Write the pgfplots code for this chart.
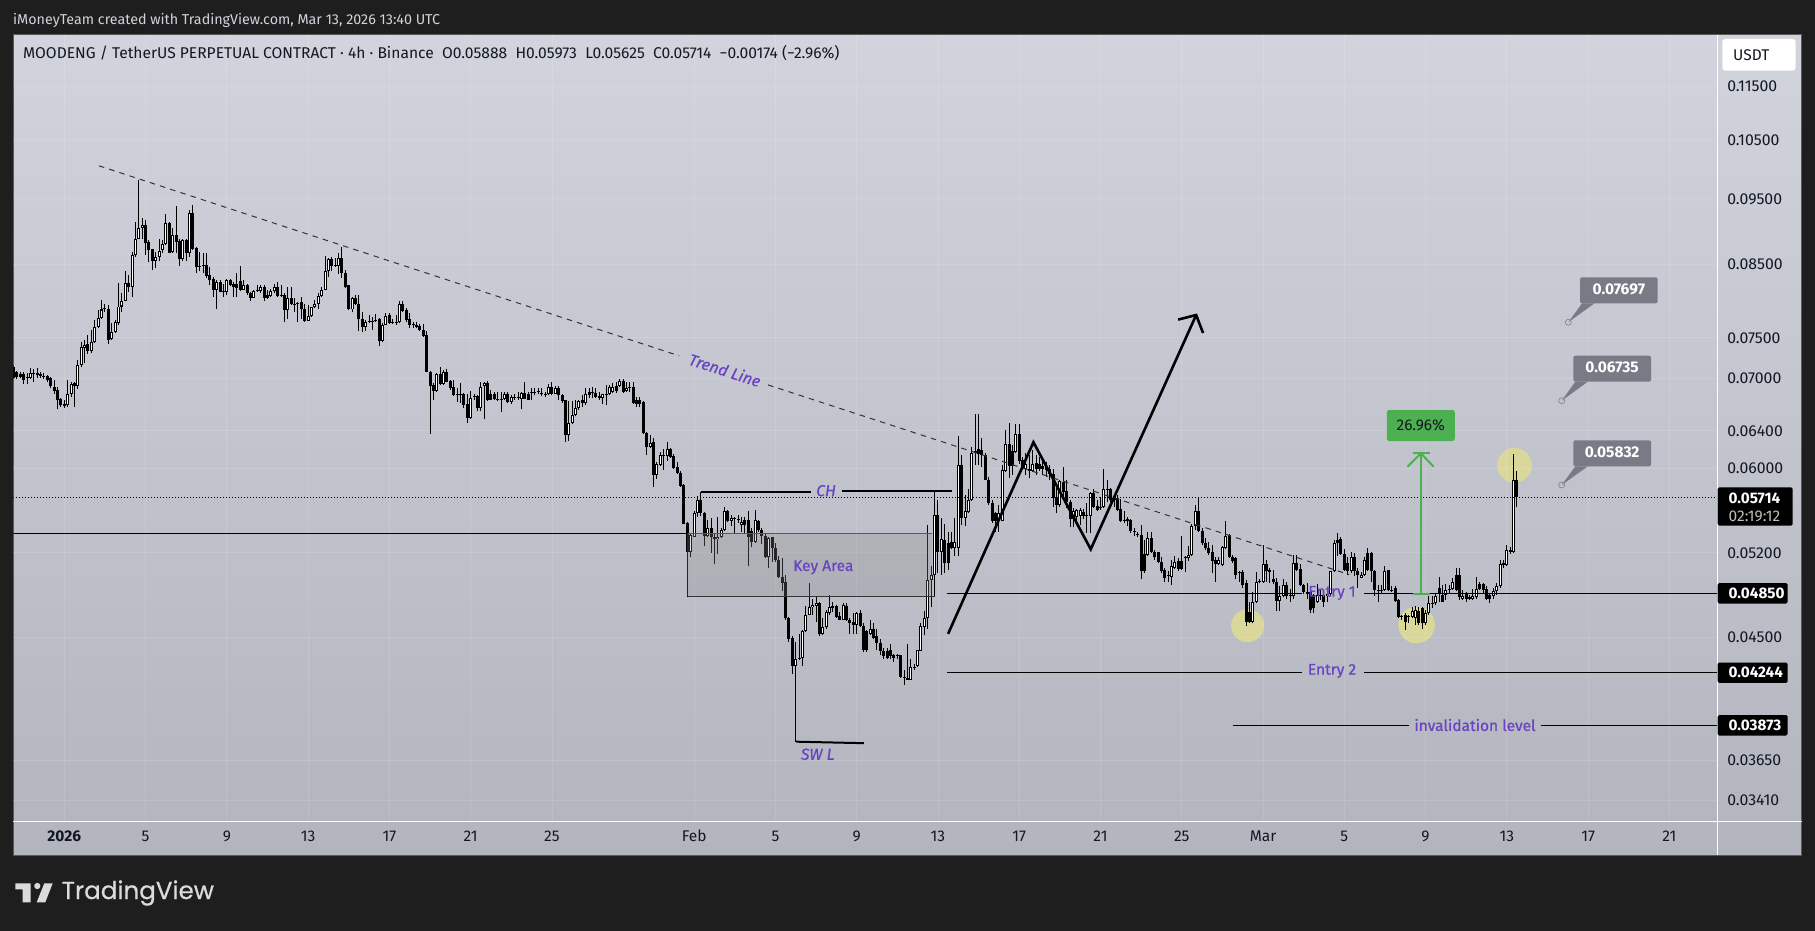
\documentclass[border=0pt]{standalone}
\usepackage{fontspec}
\setmainfont{Fira Sans}
\newfontfamily\logofont{Poppins}[UprightFeatures={RawFeature={embolden=0.6}},FakeBold=0.4]
\newfontfamily\medfont{Fira Sans}[FakeBold=0.5]
\usepackage{pgfplots}
\usepackage{pgfplotstable}
\pgfplotsset{compat=1.18}
\definecolor{panelT}{HTML}{D1D4DC}
\definecolor{panelB}{HTML}{B2B5BE}
\definecolor{dark}{HTML}{1E1E1E}
\definecolor{ink}{HTML}{131722}
\definecolor{purp}{HTML}{6A42C2}
\definecolor{tagg}{HTML}{787B86}
\definecolor{grn}{HTML}{4CAF50}
\definecolor{yel}{HTML}{DAD79A}
\newcommand\fs[1]{\fontsize{#1}{#1}\selectfont}
\pgfplotstableread{
k o h l c
-15 0.0714 0.0716 0.0699 0.0700
-14 0.0707 0.0709 0.0699 0.0702
-13 0.0705 0.0708 0.0700 0.0702
-12 0.0705 0.0708 0.0693 0.0698
-11 0.0700 0.0706 0.0693 0.0701
-10 0.0700 0.0712 0.0699 0.0706
-9 0.0705 0.0711 0.0696 0.0706
-8 0.0704 0.0712 0.0700 0.0706
-7 0.0705 0.0707 0.0700 0.0703
-6 0.0703 0.0706 0.0699 0.0702
-5 0.0703 0.0704 0.0696 0.0698
-4 0.0700 0.0701 0.0688 0.0691
-3 0.0690 0.0698 0.0682 0.0685
-2 0.0686 0.0690 0.0664 0.0675
-1 0.0676 0.0677 0.0667 0.0669
0 0.0670 0.0675 0.0665 0.0668
1 0.0669 0.0698 0.0667 0.0682
2 0.0681 0.0696 0.0678 0.0693
3 0.0694 0.0695 0.0666 0.0691
4 0.0691 0.0722 0.0687 0.0716
5 0.0716 0.0745 0.0713 0.0738
6 0.0737 0.0747 0.0718 0.0741
7 0.0742 0.0753 0.0730 0.0733
8 0.0733 0.0760 0.0731 0.0744
9 0.0744 0.0773 0.0743 0.0764
10 0.0764 0.0786 0.0763 0.0776
11 0.0776 0.0800 0.0775 0.0787
12 0.0789 0.0795 0.0784 0.0787
13 0.0788 0.0793 0.0742 0.0747
14 0.0748 0.0769 0.0747 0.0757
15 0.0757 0.0773 0.0756 0.0770
16 0.0769 0.0823 0.0767 0.0791
17 0.0791 0.0809 0.0783 0.0799
18 0.0799 0.0840 0.0798 0.0823
19 0.0823 0.0835 0.0811 0.0817
20 0.0817 0.0868 0.0804 0.0863
21 0.0863 0.0914 0.0861 0.0888
22 0.0888 0.0981 0.0887 0.0904
23 0.0904 0.0919 0.0888 0.0908
24 0.0908 0.0917 0.0864 0.0882
25 0.0883 0.0885 0.0853 0.0871
26 0.0872 0.0873 0.0841 0.0855
27 0.0855 0.0868 0.0844 0.0860
28 0.0860 0.0888 0.0855 0.0870
29 0.0871 0.0886 0.0867 0.0879
30 0.0879 0.0926 0.0878 0.0911
31 0.0912 0.0914 0.0867 0.0867
32 0.0868 0.0904 0.0866 0.0893
33 0.0893 0.0939 0.0867 0.0883
34 0.0884 0.0888 0.0848 0.0857
35 0.0857 0.0888 0.0855 0.0885
36 0.0885 0.0887 0.0855 0.0866
37 0.0866 0.0932 0.0860 0.0927
38 0.0927 0.0940 0.0871 0.0873
39 0.0874 0.0876 0.0838 0.0846
40 0.0847 0.0868 0.0840 0.0846
41 0.0847 0.0866 0.0837 0.0849
42 0.0849 0.0867 0.0830 0.0833
43 0.0834 0.0846 0.0820 0.0828
44 0.0829 0.0832 0.0804 0.0814
45 0.0813 0.0827 0.0788 0.0824
46 0.0825 0.0827 0.0810 0.0811
47 0.0812 0.0822 0.0804 0.0811
48 0.0811 0.0829 0.0806 0.0828
49 0.0827 0.0829 0.0819 0.0821
50 0.0822 0.0825 0.0804 0.0817
51 0.0822 0.0837 0.0804 0.0816
52 0.0826 0.0847 0.0812 0.0814
53 0.0814 0.0827 0.0813 0.0820
54 0.0820 0.0822 0.0807 0.0809
55 0.0809 0.0811 0.0798 0.0803
56 0.0803 0.0813 0.0803 0.0812
57 0.0812 0.0820 0.0811 0.0813
58 0.0812 0.0820 0.0809 0.0817
59 0.0817 0.0820 0.0799 0.0803
60 0.0806 0.0813 0.0801 0.0803
61 0.0805 0.0815 0.0804 0.0812
62 0.0812 0.0822 0.0809 0.0817
63 0.0817 0.0825 0.0804 0.0805
64 0.0807 0.0820 0.0804 0.0806
65 0.0807 0.0809 0.0770 0.0786
66 0.0786 0.0818 0.0775 0.0803
67 0.0803 0.0818 0.0793 0.0795
68 0.0795 0.0802 0.0784 0.0794
69 0.0795 0.0797 0.0771 0.0796
70 0.0797 0.0804 0.0775 0.0787
71 0.0788 0.0794 0.0771 0.0772
72 0.0772 0.0793 0.0772 0.0778
73 0.0778 0.0791 0.0777 0.0790
74 0.0790 0.0800 0.0789 0.0795
75 0.0795 0.0809 0.0788 0.0805
76 0.0805 0.0818 0.0804 0.0814
77 0.0814 0.0862 0.0813 0.0840
78 0.0840 0.0859 0.0832 0.0857
79 0.0858 0.0861 0.0840 0.0848
80 0.0849 0.0859 0.0846 0.0848
81 0.0848 0.0866 0.0836 0.0859
82 0.0859 0.0876 0.0830 0.0838
83 0.0838 0.0841 0.0816 0.0817
84 0.0820 0.0821 0.0786 0.0787
85 0.0787 0.0804 0.0783 0.0802
86 0.0802 0.0806 0.0793 0.0795
87 0.0795 0.0806 0.0759 0.0774
88 0.0774 0.0784 0.0757 0.0764
89 0.0764 0.0773 0.0759 0.0771
90 0.0771 0.0780 0.0769 0.0772
91 0.0771 0.0777 0.0760 0.0772
92 0.0773 0.0781 0.0771 0.0772
93 0.0774 0.0776 0.0739 0.0746
94 0.0746 0.0769 0.0744 0.0767
95 0.0767 0.0782 0.0766 0.0778
96 0.0779 0.0782 0.0768 0.0769
97 0.0771 0.0774 0.0768 0.0770
98 0.0770 0.0780 0.0767 0.0771
99 0.0770 0.0799 0.0769 0.0795
100 0.0795 0.0798 0.0784 0.0785
101 0.0786 0.0789 0.0770 0.0773
102 0.0774 0.0782 0.0763 0.0767
103 0.0768 0.0770 0.0763 0.0766
104 0.0767 0.0770 0.0762 0.0764
105 0.0765 0.0768 0.0758 0.0760
106 0.0760 0.0768 0.0751 0.0752
107 0.0753 0.0758 0.0707 0.0708
108 0.0708 0.0709 0.0637 0.0691
109 0.0692 0.0694 0.0675 0.0685
110 0.0685 0.0706 0.0684 0.0705
111 0.0705 0.0713 0.0692 0.0693
112 0.0693 0.0710 0.0692 0.0708
113 0.0708 0.0711 0.0695 0.0696
114 0.0697 0.0698 0.0686 0.0688
115 0.0690 0.0698 0.0679 0.0680
116 0.0681 0.0688 0.0672 0.0680
117 0.0681 0.0694 0.0671 0.0680
118 0.0681 0.0683 0.0665 0.0669
119 0.0670 0.0682 0.0649 0.0654
120 0.0654 0.0685 0.0653 0.0677
121 0.0679 0.0682 0.0675 0.0678
122 0.0679 0.0680 0.0662 0.0665
123 0.0665 0.0695 0.0662 0.0690
124 0.0691 0.0696 0.0653 0.0694
125 0.0694 0.0697 0.0673 0.0674
126 0.0681 0.0686 0.0674 0.0675
127 0.0681 0.0684 0.0675 0.0676
128 0.0676 0.0684 0.0673 0.0675
129 0.0676 0.0684 0.0661 0.0675
130 0.0676 0.0684 0.0674 0.0682
131 0.0682 0.0684 0.0671 0.0672
132 0.0672 0.0680 0.0670 0.0678
133 0.0678 0.0682 0.0675 0.0677
134 0.0678 0.0684 0.0675 0.0677
135 0.0676 0.0684 0.0664 0.0683
136 0.0683 0.0695 0.0676 0.0676
137 0.0682 0.0684 0.0675 0.0675
138 0.0684 0.0689 0.0675 0.0683
139 0.0683 0.0689 0.0680 0.0684
140 0.0684 0.0688 0.0681 0.0685
141 0.0683 0.0688 0.0679 0.0681
142 0.0682 0.0684 0.0678 0.0681
143 0.0681 0.0693 0.0680 0.0690
144 0.0690 0.0695 0.0680 0.0682
145 0.0682 0.0691 0.0681 0.0689
146 0.0689 0.0691 0.0675 0.0680
147 0.0680 0.0681 0.0671 0.0673
148 0.0674 0.0675 0.0628 0.0635
149 0.0635 0.0673 0.0629 0.0649
150 0.0649 0.0673 0.0647 0.0658
151 0.0658 0.0675 0.0656 0.0665
152 0.0665 0.0674 0.0663 0.0673
153 0.0674 0.0680 0.0667 0.0671
154 0.0671 0.0688 0.0669 0.0681
155 0.0684 0.0689 0.0677 0.0680
156 0.0684 0.0690 0.0677 0.0683
157 0.0683 0.0689 0.0677 0.0678
158 0.0679 0.0684 0.0675 0.0677
159 0.0677 0.0682 0.0670 0.0681
160 0.0680 0.0692 0.0669 0.0681
161 0.0681 0.0692 0.0680 0.0690
162 0.0684 0.0694 0.0683 0.0690
163 0.0691 0.0696 0.0683 0.0685
164 0.0691 0.0699 0.0690 0.0697
165 0.0697 0.0699 0.0683 0.0684
166 0.0685 0.0696 0.0684 0.0689
167 0.0689 0.0696 0.0684 0.0690
168 0.0690 0.0696 0.0670 0.0671
169 0.0675 0.0678 0.0667 0.0670
170 0.0674 0.0678 0.0667 0.0670
171 0.0672 0.0673 0.0637 0.0638
172 0.0638 0.0639 0.0614 0.0623
173 0.0623 0.0636 0.0622 0.0627
174 0.0628 0.0632 0.0582 0.0594
175 0.0594 0.0607 0.0590 0.0605
176 0.0604 0.0617 0.0603 0.0614
177 0.0613 0.0620 0.0599 0.0614
178 0.0613 0.0628 0.0608 0.0621
179 0.0621 0.0622 0.0611 0.0612
180 0.0613 0.0615 0.0600 0.0601
181 0.0602 0.0607 0.0595 0.0596
182 0.0596 0.0598 0.0582 0.0583
183 0.0584 0.0585 0.0546 0.0546
184 0.0547 0.0548 0.0482 0.0521
185 0.0521 0.0537 0.0516 0.0536
186 0.0534 0.0558 0.0534 0.0556
187 0.0556 0.0573 0.0553 0.0569
188 0.0569 0.0577 0.0554 0.0556
189 0.0556 0.0557 0.0526 0.0535
190 0.0535 0.0550 0.0534 0.0542
191 0.0542 0.0552 0.0520 0.0534
192 0.0534 0.0537 0.0510 0.0532
193 0.0532 0.0553 0.0519 0.0534
194 0.0534 0.0542 0.0533 0.0541
195 0.0541 0.0562 0.0540 0.0558
196 0.0558 0.0559 0.0548 0.0549
197 0.0549 0.0555 0.0544 0.0552
198 0.0552 0.0553 0.0537 0.0551
199 0.0550 0.0555 0.0547 0.0550
200 0.0545 0.0553 0.0539 0.0548
201 0.0550 0.0553 0.0537 0.0545
202 0.0550 0.0558 0.0508 0.0534
203 0.0540 0.0542 0.0525 0.0530
204 0.0530 0.0559 0.0529 0.0550
205 0.0549 0.0550 0.0539 0.0541
206 0.0541 0.0542 0.0528 0.0535
207 0.0535 0.0537 0.0515 0.0516
208 0.0516 0.0534 0.0507 0.0533
209 0.0534 0.0534 0.0512 0.0524
210 0.0524 0.0529 0.0512 0.0514
211 0.0514 0.0517 0.0498 0.0499
212 0.0499 0.0515 0.0487 0.0494
213 0.0495 0.0501 0.0464 0.0465
214 0.0465 0.0466 0.0447 0.0449
215 0.0450 0.0451 0.0423 0.0429
216 0.0429 0.0447 0.0377 0.0434
217 0.0434 0.0453 0.0433 0.0435
218 0.0435 0.0456 0.0429 0.0455
219 0.0455 0.0475 0.0454 0.0468
220 0.0468 0.0494 0.0468 0.0474
221 0.0474 0.0481 0.0468 0.0476
222 0.0475 0.0483 0.0462 0.0477
223 0.0477 0.0478 0.0451 0.0453
224 0.0453 0.0465 0.0452 0.0458
225 0.0458 0.0472 0.0457 0.0470
226 0.0469 0.0484 0.0468 0.0474
227 0.0475 0.0478 0.0470 0.0473
228 0.0475 0.0476 0.0465 0.0466
229 0.0467 0.0470 0.0464 0.0464
230 0.0464 0.0477 0.0464 0.0476
231 0.0475 0.0477 0.0463 0.0464
232 0.0464 0.0465 0.0453 0.0461
233 0.0462 0.0469 0.0453 0.0460
234 0.0460 0.0470 0.0453 0.0469
235 0.0469 0.0472 0.0458 0.0459
236 0.0459 0.0461 0.0439 0.0441
237 0.0455 0.0456 0.0439 0.0441
238 0.0453 0.0464 0.0452 0.0457
239 0.0457 0.0461 0.0449 0.0450
240 0.0451 0.0457 0.0441 0.0446
241 0.0446 0.0449 0.0437 0.0440
242 0.0440 0.0442 0.0434 0.0436
243 0.0440 0.0442 0.0434 0.0435
244 0.0441 0.0445 0.0434 0.0436
245 0.0437 0.0438 0.0432 0.0435
246 0.0437 0.0438 0.0434 0.0436
247 0.0437 0.0437 0.0420 0.0421
248 0.0421 0.0426 0.0415 0.0420
249 0.0419 0.0445 0.0419 0.0420
250 0.0419 0.0434 0.0419 0.0428
251 0.0428 0.0430 0.0426 0.0427
252 0.0429 0.0441 0.0428 0.0441
253 0.0440 0.0461 0.0440 0.0459
254 0.0458 0.0471 0.0452 0.0465
255 0.0465 0.0545 0.0457 0.0496
256 0.0496 0.0508 0.0474 0.0501
257 0.0501 0.0577 0.0483 0.0555
258 0.0555 0.0569 0.0502 0.0521
259 0.0521 0.0552 0.0501 0.0532
260 0.0531 0.0546 0.0502 0.0511
261 0.0529 0.0539 0.0505 0.0511
262 0.0530 0.0539 0.0523 0.0524
263 0.0524 0.0552 0.0517 0.0530
264 0.0524 0.0634 0.0517 0.0604
265 0.0604 0.0614 0.0545 0.0552
266 0.0552 0.0574 0.0544 0.0558
267 0.0557 0.0580 0.0556 0.0569
268 0.0569 0.0623 0.0568 0.0616
269 0.0616 0.0659 0.0604 0.0618
270 0.0620 0.0659 0.0604 0.0615
271 0.0619 0.0632 0.0602 0.0614
272 0.0614 0.0616 0.0589 0.0589
273 0.0589 0.0592 0.0564 0.0566
274 0.0566 0.0569 0.0547 0.0549
275 0.0556 0.0557 0.0539 0.0549
276 0.0549 0.0564 0.0539 0.0556
277 0.0549 0.0604 0.0549 0.0599
278 0.0598 0.0641 0.0597 0.0626
279 0.0626 0.0649 0.0591 0.0603
280 0.0618 0.0625 0.0594 0.0603
281 0.0617 0.0647 0.0616 0.0637
282 0.0637 0.0647 0.0605 0.0608
283 0.0609 0.0612 0.0599 0.0600
284 0.0600 0.0616 0.0594 0.0605
285 0.0600 0.0614 0.0591 0.0598
286 0.0598 0.0619 0.0597 0.0605
287 0.0606 0.0614 0.0594 0.0600
288 0.0605 0.0612 0.0598 0.0600
289 0.0603 0.0610 0.0594 0.0600
290 0.0599 0.0607 0.0592 0.0602
291 0.0600 0.0604 0.0589 0.0595
292 0.0595 0.0600 0.0562 0.0571
293 0.0572 0.0581 0.0556 0.0564
294 0.0564 0.0589 0.0562 0.0588
295 0.0587 0.0602 0.0569 0.0577
296 0.0578 0.0589 0.0561 0.0567
297 0.0567 0.0569 0.0543 0.0551
298 0.0551 0.0561 0.0543 0.0558
299 0.0553 0.0560 0.0545 0.0559
300 0.0554 0.0561 0.0545 0.0559
301 0.0557 0.0560 0.0551 0.0554
302 0.0555 0.0566 0.0538 0.0554
303 0.0554 0.0577 0.0538 0.0576
304 0.0576 0.0580 0.0561 0.0562
305 0.0563 0.0569 0.0558 0.0559
306 0.0562 0.0572 0.0559 0.0561
307 0.0562 0.0600 0.0561 0.0580
308 0.0579 0.0589 0.0567 0.0580
309 0.0580 0.0581 0.0567 0.0569
310 0.0572 0.0574 0.0562 0.0569
311 0.0571 0.0574 0.0558 0.0559
312 0.0560 0.0570 0.0548 0.0549
313 0.0550 0.0558 0.0547 0.0549
314 0.0551 0.0553 0.0544 0.0549
315 0.0550 0.0551 0.0538 0.0540
316 0.0540 0.0542 0.0535 0.0539
317 0.0537 0.0539 0.0534 0.0536
318 0.0536 0.0545 0.0497 0.0504
319 0.0519 0.0531 0.0502 0.0504
320 0.0518 0.0539 0.0517 0.0533
321 0.0533 0.0539 0.0520 0.0521
322 0.0521 0.0522 0.0514 0.0516
323 0.0521 0.0521 0.0511 0.0512
324 0.0512 0.0516 0.0502 0.0504
325 0.0505 0.0507 0.0495 0.0498
326 0.0501 0.0504 0.0495 0.0500
327 0.0499 0.0514 0.0492 0.0508
328 0.0507 0.0517 0.0506 0.0512
329 0.0513 0.0515 0.0504 0.0506
330 0.0513 0.0535 0.0505 0.0506
331 0.0515 0.0517 0.0503 0.0516
332 0.0515 0.0526 0.0513 0.0518
333 0.0518 0.0546 0.0517 0.0544
334 0.0544 0.0564 0.0541 0.0558
335 0.0558 0.0572 0.0539 0.0540
336 0.0540 0.0542 0.0527 0.0529
337 0.0529 0.0533 0.0522 0.0524
338 0.0524 0.0530 0.0518 0.0520
339 0.0521 0.0527 0.0502 0.0513
340 0.0514 0.0516 0.0495 0.0510
341 0.0510 0.0516 0.0509 0.0514
342 0.0509 0.0526 0.0508 0.0525
343 0.0524 0.0549 0.0523 0.0535
344 0.0536 0.0537 0.0515 0.0516
345 0.0516 0.0518 0.0511 0.0513
346 0.0515 0.0516 0.0497 0.0501
347 0.0503 0.0504 0.0495 0.0502
348 0.0503 0.0505 0.0490 0.0492
349 0.0494 0.0496 0.0459 0.0462
350 0.0470 0.0478 0.0461 0.0462
351 0.0462 0.0486 0.0461 0.0478
352 0.0478 0.0503 0.0477 0.0495
353 0.0495 0.0497 0.0494 0.0495
354 0.0495 0.0527 0.0494 0.0510
355 0.0510 0.0514 0.0495 0.0504
356 0.0505 0.0507 0.0494 0.0503
357 0.0497 0.0505 0.0493 0.0495
358 0.0495 0.0498 0.0471 0.0479
359 0.0479 0.0491 0.0471 0.0483
360 0.0483 0.0497 0.0482 0.0492
361 0.0492 0.0495 0.0481 0.0483
362 0.0484 0.0489 0.0478 0.0483
363 0.0483 0.0518 0.0481 0.0511
364 0.0511 0.0518 0.0504 0.0505
365 0.0506 0.0510 0.0491 0.0492
366 0.0492 0.0493 0.0485 0.0486
367 0.0486 0.0494 0.0481 0.0485
368 0.0486 0.0491 0.0469 0.0472
369 0.0484 0.0485 0.0469 0.0473
370 0.0478 0.0493 0.0477 0.0484
371 0.0484 0.0488 0.0480 0.0483
372 0.0484 0.0486 0.0474 0.0478
373 0.0483 0.0488 0.0478 0.0485
374 0.0485 0.0504 0.0483 0.0504
375 0.0504 0.0531 0.0503 0.0529
376 0.0531 0.0538 0.0517 0.0529
377 0.0532 0.0534 0.0518 0.0519
378 0.0519 0.0523 0.0504 0.0505
379 0.0511 0.0516 0.0501 0.0504
380 0.0504 0.0521 0.0502 0.0516
381 0.0516 0.0520 0.0500 0.0504
382 0.0504 0.0507 0.0490 0.0501
383 0.0498 0.0503 0.0498 0.0501
384 0.0501 0.0516 0.0500 0.0514
385 0.0520 0.0524 0.0504 0.0505
386 0.0520 0.0521 0.0495 0.0504
387 0.0504 0.0505 0.0483 0.0488
388 0.0488 0.0492 0.0478 0.0487
389 0.0488 0.0492 0.0485 0.0487
390 0.0488 0.0508 0.0487 0.0504
391 0.0505 0.0505 0.0487 0.0488
392 0.0488 0.0491 0.0486 0.0487
393 0.0490 0.0491 0.0478 0.0479
394 0.0480 0.0481 0.0465 0.0466
395 0.0466 0.0468 0.0464 0.0466
396 0.0468 0.0469 0.0456 0.0462
397 0.0466 0.0468 0.0461 0.0466
398 0.0466 0.0474 0.0465 0.0471
399 0.0465 0.0475 0.0460 0.0472
400 0.0471 0.0474 0.0460 0.0461
401 0.0473 0.0474 0.0457 0.0461
402 0.0461 0.0472 0.0460 0.0469
403 0.0469 0.0483 0.0468 0.0477
404 0.0477 0.0483 0.0473 0.0477
405 0.0477 0.0485 0.0476 0.0483
406 0.0490 0.0499 0.0478 0.0485
407 0.0484 0.0492 0.0478 0.0478
408 0.0484 0.0493 0.0480 0.0488
409 0.0488 0.0492 0.0485 0.0489
410 0.0489 0.0498 0.0488 0.0495
411 0.0501 0.0507 0.0487 0.0488
412 0.0501 0.0507 0.0480 0.0482
413 0.0481 0.0488 0.0480 0.0483
414 0.0485 0.0486 0.0478 0.0481
415 0.0482 0.0484 0.0480 0.0481
416 0.0481 0.0489 0.0480 0.0483
417 0.0482 0.0499 0.0481 0.0489
418 0.0493 0.0495 0.0488 0.0489
419 0.0493 0.0494 0.0485 0.0488
420 0.0489 0.0491 0.0480 0.0481
421 0.0484 0.0485 0.0477 0.0481
422 0.0483 0.0490 0.0481 0.0487
423 0.0487 0.0494 0.0484 0.0491
424 0.0491 0.0514 0.0490 0.0510
425 0.0511 0.0514 0.0507 0.0509
426 0.0509 0.0527 0.0508 0.0522
427 0.0522 0.0525 0.0519 0.0521
428 0.0521 0.0615 0.0520 0.0589
429 0.05888 0.05973 0.05625 0.05714
}\candles
\begin{document}
\begin{tikzpicture}
\useasboundingbox (0,0) rectangle (1815pt,-931pt);
\fill[dark] (0,0) rectangle (1815pt,-931pt);
\begin{scope}[x=1pt,y=-1pt]
\shade[top color=panelT,bottom color=panelB] (13.3,34.7) rectangle (1801.7,855.3);
\draw[color=black!65!white,line width=1pt] (13.3,34.7) rectangle (1801.7,855.3);
% highlight circles under the candles
\fill[yel] (1247.6,625.7) circle (16.5);
\fill[yel] (1416.5,625) circle (18.3);
\fill[yel] (1514.5,465.3) circle (17.4);
\end{scope}
\begin{axis}[
  at={(13.3pt,-821pt)},anchor=south west,
  width=1704pt,height=786.3pt,scale only axis,
  ymode=log,
  xmin=-2.51,xmax=81.36,ymin=0.03293,ymax=0.12564,
  axis line style={draw=none},
  tick style={draw=none},
  major tick length=0pt,
  minor tick length=0pt,
  grid=major,
  grid style={white,opacity=0.12,line width=0.8pt},
  xtick={0,4,8,12,16,20,24,31,35,39,43,47,51,55,59,63,67,71,75,79},
  xticklabels={\textbf{2026},5,9,13,17,21,25,Feb,5,9,13,17,21,25,Mar,5,9,13,17,21},
  ytick={0.115,0.105,0.095,0.085,0.075,0.07,0.064,0.06,0.052,0.045,0.0365,0.0341},
  yticklabels={0.11500,0.10500,0.09500,0.08500,0.07500,0.07000,0.06400,0.06000,0.05200,0.04500,0.03650,0.03410},
  yticklabel pos=right,
  yticklabel style={anchor=west,xshift=6.5pt,font=\fs{15.8},text=ink},
  xticklabel style={anchor=center,yshift=-15pt,font=\fs{15.5},text=ink},
]
% wicks
\addplot[draw=none,forget plot,error bars/.cd,y dir=plus,y explicit,error mark=none,
  error bar style={line width=1pt,black}]
  table[x expr=\thisrow{k}/6,y=l,y error plus expr=\thisrow{h}-\thisrow{l}] {\candles};
% down bodies
\addplot[draw=none,forget plot,error bars/.cd,y dir=plus,y explicit,error mark=none,
  error bar style={line width=3pt,black}]
  table[x expr=\thisrow{k}/6,y=c,y error plus expr={(\thisrow{o}>=\thisrow{c})*max(\thisrow{o}-\thisrow{c},0.00006)}] {\candles};
% up bodies, outer and inner
\addplot[draw=none,forget plot,error bars/.cd,y dir=plus,y explicit,error mark=none,
  error bar style={line width=3pt,black}]
  table[x expr=\thisrow{k}/6,y=o,y error plus expr={(\thisrow{c}>\thisrow{o})*max(\thisrow{c}-\thisrow{o},0.00006)}] {\candles};
\addplot[draw=none,forget plot,error bars/.cd,y dir=plus,y explicit,error mark=none,
  error bar style={line width=1pt,white}]
  table[x expr=\thisrow{k}/6,y expr=\thisrow{o}*1.0017,y error plus expr={(\thisrow{c}>\thisrow{o})*max(\thisrow{c}/1.0017-\thisrow{o}*1.0017,0)}] {\candles};
% key area
\addplot[fill=black!45,fill opacity=0.28,draw=none,forget plot] coordinates {(30.63,0.05376)(42.70,0.05376)(42.70,0.0483)(30.63,0.0483)} -- cycle;
\addplot[black,line width=1pt,forget plot] coordinates {(-2.51,0.05376)(30.7,0.05376)};
\addplot[black!65,line width=1.3pt,forget plot] coordinates {(30.7,0.05376)(42.70,0.05376)};
\addplot[black!80,line width=1.1pt,forget plot] coordinates {(30.7,0.0483)(42.86,0.0483)};
% dotted last price
\addplot[black,line width=1pt,dash pattern=on 1pt off 2pt,forget plot] coordinates {(-2.51,0.05714)(81.36,0.05714)};
% trend line
\addplot[black!80,line width=1pt,dash pattern=on 5.5pt off 5.2pt,forget plot] coordinates {(1.708,0.1005)(30.26,0.07273)};
\addplot[black!80,line width=1pt,dash pattern=on 5.5pt off 5.2pt,forget plot] coordinates {(34.64,0.0692)(63.24,0.0501)};
% CH and SW L
\addplot[black,line width=2pt,forget plot] coordinates {(31.33,0.0577)(36.74,0.0577)};
\addplot[black,line width=2pt,forget plot] coordinates {(38.27,0.0578)(43.68,0.0578)};
\addplot[black,line width=2pt,forget plot] coordinates {(36.02,0.0377)(39.36,0.0376)};
% levels
\addplot[black,line width=1pt,forget plot] coordinates {(43.45,0.0485)(60.9,0.0485)};
\addplot[black,line width=1pt,forget plot] coordinates {(63.97,0.0485)(81.36,0.0485)};
\addplot[black,line width=1pt,forget plot] coordinates {(43.45,0.04244)(60.9,0.04244)};
\addplot[black,line width=1pt,forget plot] coordinates {(63.97,0.04244)(81.36,0.04244)};
\addplot[black,line width=1pt,forget plot] coordinates {(57.5,0.03873)(66.17,0.03873)};
\addplot[black,line width=1pt,forget plot] coordinates {(72.68,0.03873)(81.36,0.03873)};
% big black path
\addplot[black,line width=2.6pt,line join=miter,forget plot] coordinates {(43.5,0.04529)(47.7,0.06277)(50.52,0.05231)(55.71,0.07796)};
\addplot[black,line width=2.6pt,forget plot] coordinates {(54.82,0.07736)(55.71,0.07796)(56.05,0.07561)};
% green measure
\addplot[grn,line width=2pt,forget plot] coordinates {(66.77,0.0485)(66.77,0.0616)};
\addplot[grn,line width=2pt,forget plot] coordinates {(66.36,0.0485)(67.24,0.0485)};
\addplot[grn,line width=2pt,forget plot] coordinates {(66.36,0.0616)(67.24,0.0616)};
\addplot[grn,line width=2pt,forget plot] coordinates {(66.11,0.0602)(66.77,0.0616)(67.4,0.0602)};
\end{axis}
\begin{scope}[x=1pt,y=-1pt]
% separators
\draw[white,line width=1pt] (1717.3,34.7) -- (1717.3,855.3);
\draw[white,line width=1pt] (13.3,821) -- (1801.7,821);
% header
\node[anchor=west,inner sep=0,text=panelT,font=\fs{14.3}] at (13,20) {iMoneyTeam created with TradingView.com, Mar 13, 2026 13:40 UTC};
\node[anchor=west,inner sep=0,text=ink,font=\fs{15.6}] at (23,53.3) {MOODENG / TetherUS PERPETUAL CONTRACT · 4h · Binance\ \ O0.05888\ \ H0.05973\ \ L0.05625\ \ C0.05714\ \ −0.00174 (−2.96\%)};
% annotation text
\node[rotate=-18,text=purp,font=\fs{16}\medfont\itshape] at (725,370) {Trend Line};
\node[text=purp,font=\fs{16}\medfont\itshape] at (826,490.7) {CH};
\node[text=purp,font=\fs{15.5}\medfont] at (823.3,567.3) {Key Area};
\node[text=purp,font=\fs{16}\medfont\itshape] at (817.7,754.3) {SW L};
\node[text=purp,font=\fs{15.5}\medfont] at (1332,593) {Entry 1};
\node[text=purp,font=\fs{15.5}\medfont] at (1332,671) {Entry 2};
\node[text=purp,font=\fs{15.5}\medfont] at (1475,725) {invalidation level};
% percent label
\fill[grn,rounded corners=2.5pt] (1386.8,410) rectangle (1454.8,441);
\node[text=ink,font=\fs{15.5}] at (1420.8,425.5) {26.96\%};
% price tags
\foreach \bx/\by/\ax/\ay/\txt in {1580/277.3/1568.3/322.3/0.07697,1573.3/355.7/1561.7/400.7/0.06735,1573.3/440.3/1561.7/485/0.05832}{
  \fill[tagg,rounded corners=2pt] (\bx,\by) rectangle ++(77.7,26);
  \fill[tagg] (\bx+2,\by+26) -- (\bx+14.5,\by+26) -- (\ax,\ay) -- cycle;
  \draw[color=black!30!panelB,line width=0.6pt] (\ax,\ay) circle (3);
  \node[text=white,font=\fs{15.5}\bfseries] at (\bx+38.8,\by+12) {\txt};
}
% axis tags
\foreach \yy/\txt in {593.3/0.04850,672.7/0.04244,725.3/0.03873}{
  \fill[black,rounded corners=1.5pt] (1717.7,\yy-10.2) rectangle (1787.7,\yy+10.2);
  \node[anchor=west,inner sep=0,text=white,font=\fs{15.3}\bfseries] at (1728.5,\yy) {\txt};
}
\fill[black,rounded corners=1.5pt] (1717.7,487.3) rectangle (1792.7,525.7);
\node[anchor=west,inner sep=0,text=white,font=\fs{15.3}\bfseries] at (1728.5,498) {0.05714};
\node[anchor=west,inner sep=0,text=black!25!white,font=\fs{15.5}] at (1728.5,516) {02:19:12};
% currency button
\fill[white,rounded corners=3pt] (1722.3,39) rectangle (1795.7,70.7);
\node[anchor=west,inner sep=0,text=ink,font=\fs{15.5}] at (1733,54.7) {USDT};
% logo
\definecolor{logoc}{HTML}{DBDBDB}
\fill[logoc] (15.3,883.3) -- (30.7,883.3) -- (30.7,902.3) -- (22.7,902.3) -- (22.7,889.3) -- (15.3,889.3) -- cycle;
\fill[logoc] (37.3,886) circle (3.1);
\fill[logoc] (44.3,883.3) -- (52.7,883.3) -- (45.3,902.3) -- (36.7,902.3) -- cycle;
\node[anchor=west,inner sep=0,text=logoc,font=\fs{24.6}\logofont] at (61.5,893) {TradingView};
\end{scope}
\end{tikzpicture}
\end{document}
